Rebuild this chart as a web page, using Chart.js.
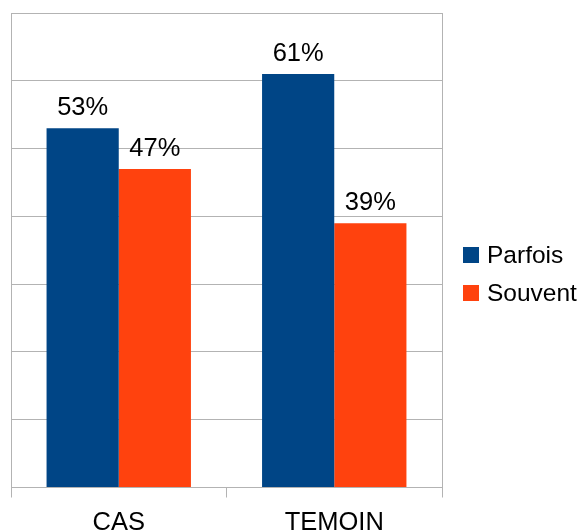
<!DOCTYPE html>
<html>
<head>
<meta charset="utf-8">
<script src="https://cdn.jsdelivr.net/npm/chart.js@4"></script>
<style>
  html, body { margin: 0; padding: 0; background: #fff; }
  #wrap { width: 579px; height: 531px; }
</style>
</head>
<body>
<div id="wrap"><canvas id="chart"></canvas></div>
<script>
const categories = ["CAS", "TEMOIN"];
const parfois    = [53, 61];
const souvent    = [47, 39];

const FONT = "'Liberation Sans', Arial, sans-serif";
const FONT_SIZE = 25.5;

// draw "53%" etc above each bar
const valueLabels = {
  id: "valueLabels",
  afterDatasetsDraw(chart) {
    const ctx = chart.ctx;
    ctx.save();
    ctx.font = FONT_SIZE + "px " + FONT;
    ctx.fillStyle = "#000";
    ctx.textAlign = "center";
    ctx.textBaseline = "alphabetic";
    chart.data.datasets.forEach((ds, i) => {
      chart.getDatasetMeta(i).data.forEach((bar, j) => {
        ctx.fillText(ds.data[j] + "%", bar.x, bar.y - 13);
      });
    });
    ctx.restore();
  }
};

// legend on the right, drawn by hand (built-in one measured too narrow)
const sideLegend = {
  id: "sideLegend",
  afterDraw(chart) {
    const ctx = chart.ctx;
    const area = chart.chartArea;
    const x = area.right + 21;
    const y0 = 255;
    const step = 38;
    ctx.save();
    ctx.font = "24.5px " + FONT;
    ctx.textAlign = "left";
    ctx.textBaseline = "middle";
    chart.data.datasets.forEach((ds, i) => {
      const y = y0 + i * step;
      ctx.fillStyle = ds.backgroundColor;
      ctx.fillRect(x, y - 8, 16, 16);
      ctx.fillStyle = "#000";
      ctx.fillText(ds.label, x + 24, y + 1);
    });
    ctx.restore();
  }
};

new Chart(document.getElementById("chart"), {
  type: "bar",
  data: {
    labels: categories,
    datasets: [
      { label: "Parfois", data: parfois, backgroundColor: "#004586" },
      { label: "Souvent", data: souvent, backgroundColor: "#ff420e" }
    ]
  },
  options: {
    responsive: true,
    maintainAspectRatio: false,
    animation: false,
    layout: { padding: { top: 13, left: 11, right: 137, bottom: -18 } },
    datasets: { bar: { categoryPercentage: 0.67, barPercentage: 1.0 } },
    scales: {
      x: {
        grid: { display: true, drawOnChartArea: false, drawTicks: true, tickLength: 10, color: "#b3b3b3", offset: true },
        border: { display: true, color: "#b3b3b3" },
        ticks: { color: "#000", font: { family: FONT, size: FONT_SIZE, lineHeight: 1 }, padding: 13 }
      },
      y: {
        min: 0, max: 70,
        ticks: { display: false, stepSize: 10 },
        grid: { color: "#b3b3b3", drawTicks: false },
        border: { display: true, color: "#b3b3b3" }
      },
      y2: {
        position: "right",
        min: 0, max: 70,
        ticks: { display: false },
        grid: { display: false, drawTicks: false },
        border: { display: true, color: "#b3b3b3" }
      }
    },
    plugins: {
      legend: { display: false },
      tooltip: { enabled: false }
    }
  },
  plugins: [valueLabels, sideLegend]
});
</script>
</body>
</html>
